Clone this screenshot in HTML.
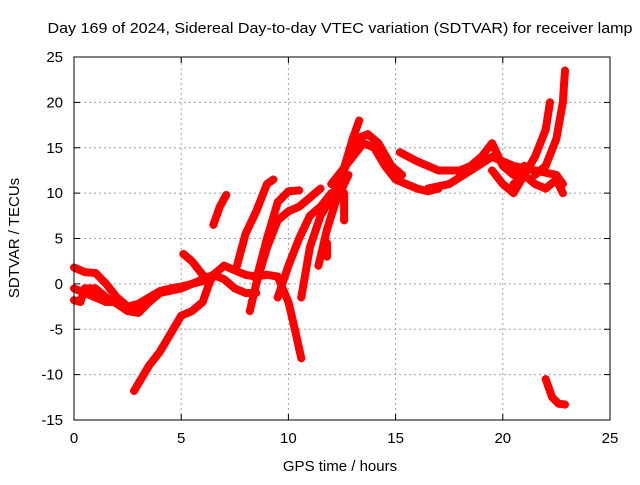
<!DOCTYPE html>
<html><head><meta charset="utf-8"><style>
body{margin:0;background:#fff}
svg text{font-family:"Liberation Sans",sans-serif;font-size:15px;fill:#000}
</style></head><body>
<svg id="c" width="640" height="480" xmlns="http://www.w3.org/2000/svg"></svg>
<script>
const xTicks=[0,5,10,15,20,25];
const yTicks=[-15,-10,-5,0,5,10,15,20,25];
const trackNames=["t1","t2","t3","t4","t5","t6","t7","t8","t9","t10","t11","t12","t13","t14","t15","t16","t17","t18","t19","t20","t21","t22","t23"];
const trackHours=[
[0,0.5,1,1.5,2,2.5,3,3.5,4,5,5.5,6,6.5,7,7.5,8,8.5],
[0,0.5,1,1.5,2,2.5,3,3.5,4,4.5,5,5.5,6],
[0,0.3,0.5,1,1.5,2,2.5,3,3.5,4],
[2.8,3.5,4,4.5,5,5.5,6,6.3,6.5,7,7.5,8,8.5,9,9.5],
[5.1,5.5,6,6.3],
[6.5,6.8,7.1],
[7.6,8,8.5,9,9.3],
[8.2,8.5,9,9.5,10,10.5,11,11.5],
[8.5,9,9.5,10,10.5],
[9.5,10,10.5,11,11.5,12],
[9.5,10,10.3,10.6],
[10.6,11,11.5,12,12.5,13,13.3],
[11.4,11.8,12.2,12.8],
[12,13,13.5,14,14.5,15,15.5,16,16.5,17],
[12.5,13.2,13.7,14.2,14.8,15.3],
[15.2,16,17,18,18.5,19,19.5,20,20.5,21],
[16.5,17.5,18.5,19.5,20.5,21.5,22.5,22.8],
[20.5,21,21.5,22,22.2],
[21.5,22,22.5,22.8,22.9],
[22,22.3,22.6,22.9],
[19.5,20,20.5,21,21.5,22,22.5,22.8],
[12.6,12.6],
[11.8,11.8]
];
const trackValues=[
[1.8,1.3,1.2,0,-1.5,-2.5,-3,-2,-1,-0.5,0,0.5,1,0.5,-0.5,-1,-1],
[-0.5,-1,-1.5,-2,-2,-2.5,-2.2,-1.5,-0.8,-0.5,-0.3,0,0.3],
[-1.8,-2,-0.5,-0.5,-1.5,-2.2,-3,-3.2,-2,-1],
[-11.8,-9,-7.5,-5.5,-3.5,-3,-2,0,1,2,1.5,1,0.8,1,0.8],
[3.3,2.5,1,0.5],
[6.5,8.5,9.8],
[2,5.5,8,11,11.5],
[-3,0,4,7,8,8.5,9.5,10.5],
[0.5,5,9,10.2,10.3],
[-1.5,2,5,7.5,8.5,10],
[0.8,-2,-5,-8.2],
[-1.5,4,7.5,9.5,12,16,18],
[2,6,9,12],
[11,14,15.5,15,13,11.5,11,10.5,10.2,10.5],
[12,16,16.5,15.5,13,12],
[14.5,13.5,12.5,12.5,13,14,15.5,13,12,13],
[10.5,11,12.5,14,13,12.5,12,11],
[11,12,14,17,20],
[12,13,16,20,23.5],
[-10.5,-12.5,-13.2,-13.3],
[12.5,11,10,12,11,10.5,11.5,10],
[10,7],
[4.5,3]
];
const X0=74,X1=610,Y0=420,Y1=57,xmin=0,xmax=25,ymin=-15,ymax=25;
const sx=v=>X0+(v-xmin)/(xmax-xmin)*(X1-X0);
const sy=v=>Y0-(v-ymin)/(ymax-ymin)*(Y0-Y1);
const svg=document.getElementById('c');
const NS="http://www.w3.org/2000/svg";
function mk(t,a){const e=document.createElementNS(NS,t);for(const k in a)e.setAttribute(k,a[k]);svg.appendChild(e);return e;}
xTicks.forEach(t=>{
 if(t>xmin&&t<xmax){const g=mk('line',{x1:sx(t),x2:sx(t),y1:Y0,y2:Y1,stroke:'#a0a0a0','stroke-dasharray':'2,3'});
 
 }
 const tl=mk('text',{x:sx(t),y:Y0+23,'text-anchor':'middle'});tl.textContent=t;
 
 
 mk('line',{x1:sx(t),x2:sx(t),y1:Y0,y2:Y0-6,stroke:'#000'});
 mk('line',{x1:sx(t),x2:sx(t),y1:Y1,y2:Y1+6,stroke:'#000'});
});
yTicks.forEach(t=>{
 if(t>ymin&&t<ymax){const g=mk('line',{x1:X0,x2:X1,y1:sy(t),y2:sy(t),stroke:'#a0a0a0','stroke-dasharray':'2,3'});
 
 }
 const tl=mk('text',{x:X0-11,y:sy(t)+5,'text-anchor':'end'});tl.textContent=t;
 
 
 mk('line',{x1:X0,x2:X0+6,y1:sy(t),y2:sy(t),stroke:'#000'});
 mk('line',{x1:X1,x2:X1-6,y1:sy(t),y2:sy(t),stroke:'#000'});
});
trackHours.forEach((hs,i)=>{
 const vs=trackValues[i];
 const pts=hs.map((h,j)=>sx(h)+','+sy(vs[j])).join(' ');
 const pl=mk('polyline',{points:pts,fill:'none',stroke:'#ff0000','stroke-width':8,'stroke-linejoin':'round','stroke-linecap':'round'});
 
 
 hs.forEach((h,j)=>{
  const x=sx(h),y=sy(vs[j]);
  const p=mk('path',{d:`M${x-4},${y}H${x+4}M${x},${y-4}V${y+4}`,stroke:'#ff0000','stroke-width':1.5});
  
  
 });
});
const b=mk('rect',{x:X0,y:Y1,width:X1-X0,height:Y0-Y1,fill:'none',stroke:'#000'});


const ti=mk('text',{x:340,y:33,'text-anchor':'middle','textLength':585,'lengthAdjust':'spacingAndGlyphs'});ti.textContent='Day 169 of 2024, Sidereal Day-to-day VTEC variation (SDTVAR) for receiver lamp';


const xl=mk('text',{x:340,y:471,'text-anchor':'middle'});xl.textContent='GPS time / hours';


const yl=mk('text',{x:0,y:0,'text-anchor':'middle',transform:'translate(19,238) rotate(-90)'});yl.textContent='SDTVAR / TECUs';


</script>
</body></html>
